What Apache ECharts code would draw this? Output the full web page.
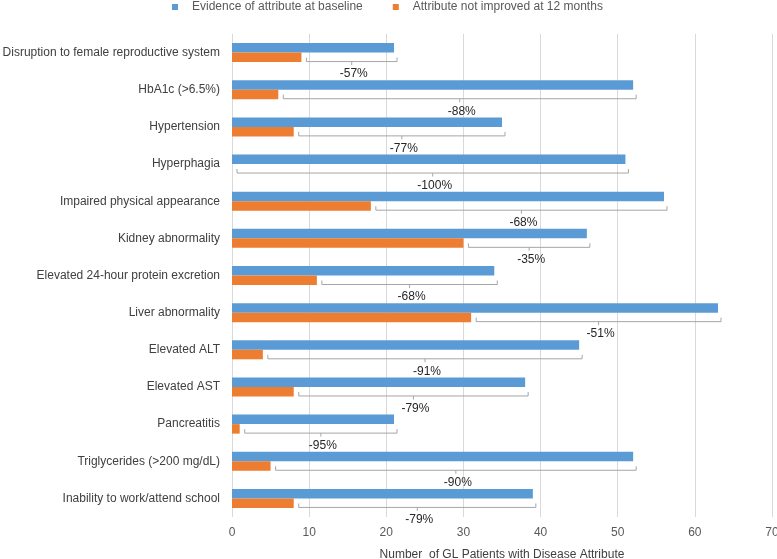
<!DOCTYPE html>
<html>
<head>
<meta charset="utf-8">
<script src="https://cdn.jsdelivr.net/npm/echarts@6/dist/echarts.min.js"></script>
<style>html,body{margin:0;padding:0;background:#fff}#c{width:777px;height:559px}</style>
</head>
<body>
<div id="c"></div>
<script>
const categories = [
  "Disruption to female reproductive system",
  "HbA1c (>6.5%)",
  "Hypertension",
  "Hyperphagia",
  "Impaired physical appearance",
  "Kidney abnormality",
  "Elevated 24-hour protein excretion",
  "Liver abnormality",
  "Elevated ALT",
  "Elevated AST",
  "Pancreatitis",
  "Triglycerides (>200 mg/dL)",
  "Inability to work/attend school"
];
const baseline = [21, 52, 35, 51, 56, 46, 34, 63, 45, 38, 21, 52, 39];
const notImproved = [9, 6, 8, 0, 18, 30, 11, 31, 4, 8, 1, 5, 8];
const changeLabels = ["-57%", "-88%", "-77%", "-100%", "-68%", "-35%", "-68%", "-51%", "-91%", "-79%", "-95%", "-90%", "-79%"];
const xTicks = [0, 10, 20, 30, 40, 50, 60, 70];

const FONT = "Liberation Sans";
const chart = echarts.init(document.getElementById('c'), null, {renderer: 'canvas'});

const bracketData = categories.map((c, i) => [i, notImproved[i], baseline[i], changeLabels[i]]);

chart.setOption({
  animation: false,
  textStyle: {fontFamily: FONT},
  legend: {
    top: -4,
    left: 167,
    icon: 'rect',
    itemWidth: 6,
    itemHeight: 6,
    itemGap: 30,
    textStyle: {fontSize: 12, color: '#595959', fontFamily: FONT, padding: [0, 0, 0, 9]},
    data: ['Evidence of attribute at baseline', 'Attribute not improved at 12 months']
  },
  grid: {left: 232, right: 5, top: 34, bottom: 42, containLabel: false, outerBoundsMode: 'none'},
  xAxis: {
    type: 'value',
    min: xTicks[0],
    max: xTicks[xTicks.length - 1],
    interval: 10,
    name: 'Number  of GL Patients with Disease Attribute',
    nameLocation: 'middle',
    nameGap: 32,
    nameTextStyle: {fontSize: 12, color: '#404040', fontFamily: FONT},
    axisLine: {show: false},
    axisTick: {show: false},
    axisLabel: {fontSize: 12, color: '#595959', margin: 10, fontFamily: FONT},
    splitLine: {show: true, lineStyle: {color: '#d9d9d9', width: 1}}
  },
  yAxis: {
    type: 'category',
    inverse: true,
    data: categories,
    axisLine: {show: false},
    axisTick: {show: false},
    axisLabel: {fontSize: 12, color: '#404040', margin: 12, fontFamily: FONT}
  },
  series: [
    {
      name: 'Evidence of attribute at baseline',
      type: 'bar',
      data: baseline,
      barWidth: 9.5,
      barGap: '0%',
      itemStyle: {color: '#5B9BD5'}
    },
    {
      name: 'Attribute not improved at 12 months',
      type: 'bar',
      data: notImproved,
      barWidth: 9.5,
      barGap: '0%',
      itemStyle: {color: '#ED7D31'}
    },
    {
      type: 'custom',
      name: 'brackets',
      data: bracketData,
      encode: {y: 0, x: [1, 2]},
      z: 5,
      renderItem: function (params, api) {
        const idx = api.value(0);
        const p1 = api.coord([api.value(1), idx]);
        const p2 = api.coord([api.value(2), idx]);
        const cy = p1[1];
        const x1 = p1[0] + 5;
        const x2 = p2[0] + 3;
        const ly = cy + 9;
        const mx = (x1 + x2) / 2;
        const style = {stroke: '#a6a6a6', lineWidth: 1, fill: null};
        return {
          type: 'group',
          children: [
            {type: 'polyline', shape: {points: [[x1, ly - 4], [x1, ly], [x2, ly], [x2, ly - 4]]}, style: style},
            {type: 'line', shape: {x1: mx, y1: ly, x2: mx, y2: ly + 3.5}, style: style},
            {type: 'text', style: {text: changeLabels[idx], x: mx + 2, y: cy + 21.5, align: 'center', verticalAlign: 'middle', fontSize: 12, fontFamily: FONT, fill: '#262626'}}
          ]
        };
      }
    }
  ]
});
</script>
</body>
</html>
